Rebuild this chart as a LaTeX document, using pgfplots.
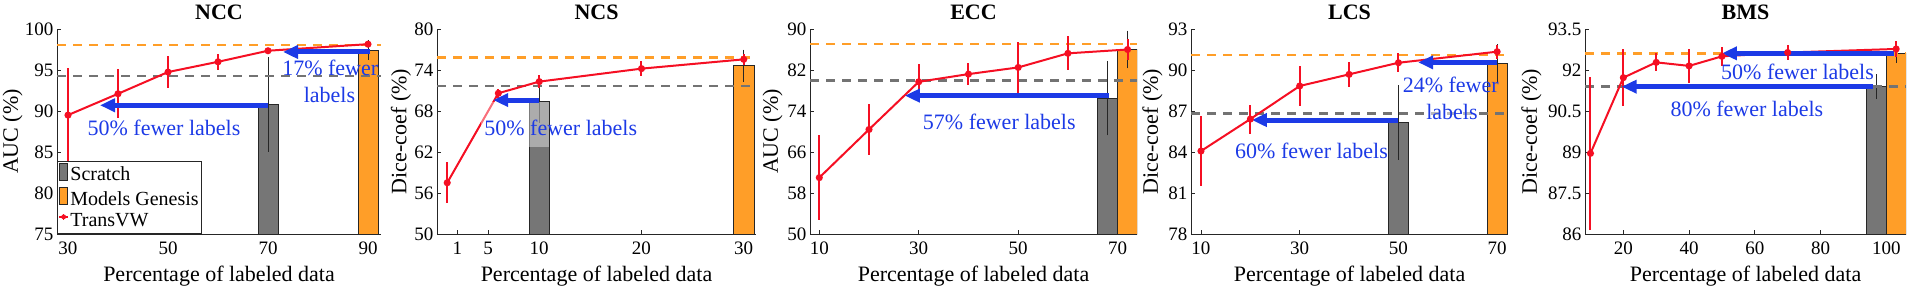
\documentclass[border=0pt]{standalone}
\usepackage{pgfplots}
\pgfplotsset{compat=1.18}
\usepackage{fontspec}
\setmainfont{Liberation Serif}
\usetikzlibrary{arrows.meta}
\definecolor{cgray}{RGB}{118,118,118}
\definecolor{corange}{RGB}{255,158,40}
\definecolor{cred}{RGB}{245,15,35}
\definecolor{cblue}{RGB}{28,58,230}
\definecolor{caxis}{RGB}{38,38,38}
\definecolor{cdash}{RGB}{115,115,115}
\pgfplotsset{
 panel/.style={
  scale only axis, height=205pt, anchor=south west,
  axis x line*=bottom, axis y line*=left,
  axis line style={caxis, line width=0.8pt},
  tick align=inside, major tick length=4pt,
  tick style={caxis, line width=0.8pt},
  ticklabel style={font=\fontsize{19}{19}\selectfont, text=black},
  xticklabel style={anchor=base, yshift=-20pt},
  every axis title/.style={font=\fontsize{22}{22}\selectfont\bfseries, at={(axis description cs:0.5,1)}, anchor=base, yshift=10pt},
  every axis x label/.style={font=\fontsize{22}{22}\selectfont, at={(axis description cs:0.5,0)}, anchor=base, yshift=-47pt},
  xlabel={Percentage of labeled data},
  /pgf/number format/assume math mode=true,
  /pgf/number format/fixed,
  enlargelimits=false,
 },
 ylabeloff/.style={every axis y label/.style={font=\fontsize{22}{22}\selectfont, at={(axis description cs:0,0.5)}, xshift=-#1, rotate=90, anchor=center}},
 bstyle/.style={ybar, bar width=#1, bar shift=0pt, draw=black!85, line width=0.8pt, forget plot},
 berr/.style={error bars/.cd, y dir=both, y explicit,
   error bar style={black!85, line width=0.8pt},
   error mark options={black!85, line width=0.8pt, mark size=5.5pt}},
 tvw/.style={cred, line width=2pt, mark=*, mark size=2.5pt, mark options={solid, fill=cred}, forget plot,
   error bars/.cd, y dir=both, y explicit, error mark=none,
   error bar style={cred, line width=2pt}},
 odash/.style={corange, line width=2.5pt, dash pattern=on 9pt off 7pt, forget plot},
 gdash/.style={cdash, line width=2.5pt, dash pattern=on 9pt off 7pt, forget plot},
 barrow/.style={cblue, line width=5pt, -{Triangle[length=15pt,width=13pt]}, forget plot},
}
\tikzset{ann/.style={text=cblue, font=\fontsize{22}{26.7}\selectfont, inner sep=1pt},
  annf/.style={ann, fill=white, fill opacity=0.5, text opacity=1}}
\begin{document}
\begin{tikzpicture}
\useasboundingbox (0,0) rectangle (1908pt,287pt);
% ---------------- NCC
\begin{axis}[panel, ylabeloff=44.5pt, at={(57pt,53pt)}, width=324pt,
  title={NCC}, ylabel={AUC (\%)},
  xmin=27.8, xmax=92.6, ymin=75, ymax=100,
  xtick={30,50,70,90}, ytick={75,80,85,90,95,100},
  legend style={at={(axis description cs:0,0)}, anchor=south west, draw=caxis, line width=0.8pt,
    font=\fontsize{20}{20}\selectfont, inner sep=1pt, nodes={inner sep=1.5pt, text height=14pt, text depth=4.5pt}},
  legend cell align=left]
\addplot[bstyle=4, fill=cgray, berr] coordinates {(70,90.8) +- (0,5.1)};
\addplot[bstyle=4, fill=corange, berr] coordinates {(90,97.45) +- (0,0.55)};
\addplot[odash] coordinates {(27.8,98.05) (92.6,98.05)};
\addplot[gdash] coordinates {(27.8,94.25) (92.6,94.25)};
\addplot[tvw] coordinates {(30,89.5) +- (0,5.7) (40,92.1) +- (0,3.0) (50,94.75) +- (0,1.9) (60,96.0) +- (0,1.0) (70,97.35) +- (0,0.35) (90,98.15) +- (0,0.3)};
\addplot[barrow] coordinates {(70,90.7) (36.4,90.7)};
\addplot[barrow] coordinates {(90.4,97.2) (73.0,97.2)};
\node[ann] at (axis cs:49.2,87.9) {50\% fewer labels};
\node[ann] at (axis cs:82.45,95.2) {17\% fewer};
\node[annf] at (axis cs:82.3,91.95) {labels};
\addlegendimage{legend image code/.code={\draw[draw=black!85, line width=0.8pt, fill=cgray] (0pt,-4pt) rectangle (8pt,13pt);}}
\addlegendentry{Scratch}
\addlegendimage{legend image code/.code={\draw[draw=black!85, line width=0.8pt, fill=corange] (0pt,-4pt) rectangle (8pt,13pt);}}
\addlegendentry{Models Genesis}
\addlegendimage{legend image code/.code={\draw[cred, line width=1.5pt] (0pt,5pt) -- (9pt,5pt); \draw[cred, line width=1.2pt] (4.5pt,2pt) -- (4.5pt,8pt); \fill[cred] (4.5pt,5pt) circle (2pt);}}
\addlegendentry{TransVW}
\end{axis}
% ---------------- NCS
\begin{axis}[panel, ylabeloff=36pt, at={(437pt,53pt)}, width=319pt,
  title={NCS}, ylabel={Dice-coef (\%)},
  xmin=0, xmax=31.2, ymin=50, ymax=80,
  xtick={2,5,10,20,30}, xticklabels={1,5,10,20,30}, ytick={50,56,62,68,74,80}]
\addplot[bstyle=2, fill=cgray, berr] coordinates {(10,69.37) +- (0,2.25)};
\addplot[bstyle=2, fill=corange, berr] coordinates {(30,74.63) +- (0,1.55)};
\addplot[odash] coordinates {(0,75.85) (31.2,75.85)};
\addplot[gdash] coordinates {(0,71.66) (31.2,71.66)};
\addplot[tvw] coordinates {(1,57.5) +- (0,3.0) (6,70.6) +- (0,0.65) (10,72.3) +- (0,1.0) (20,74.2) +- (0,1.05) (30,75.56) +- (0,0.8)};
\fill[white, opacity=0.4] (axis cs:4.3,62.7) rectangle (axis cs:11.0,69.3);
\addplot[barrow] coordinates {(10,69.6) (5.5,69.6)};
\node[ann] at (axis cs:12.1,65.5) {50\% fewer labels};
\end{axis}
% ---------------- ECC
\begin{axis}[panel, ylabeloff=37.5pt, at={(810pt,53pt)}, width=327pt,
  title={ECC}, ylabel={AUC (\%)},
  xmin=8.13, xmax=73.9, ymin=50, ymax=90,
  xtick={10,30,50,70}, ytick={50,58,66,74,82,90}]
\addplot[bstyle=4, fill=cgray, berr] coordinates {(68,76.5) +- (0,6.2)};
\addplot[bstyle=4, fill=corange, berr] coordinates {(72,86.0) +- (0,2.6)};
\addplot[odash] coordinates {(8.13,87.1) (73.9,87.1)};
\addplot[gdash] coordinates {(8.13,79.95) (73.9,79.95)};
\addplot[tvw] coordinates {(10,61.0) +- (0,8.3) (20,70.4) +- (0,4.9) (30,79.7) +- (0,3.45) (40,81.2) +- (0,2.2) (50,82.5) +- (0,5.0) (60,85.25) +- (0,3.3) (72,86.0) +- (0,2.1)};
\addplot[barrow] coordinates {(68.2,77.0) (27.2,77.0)};
\node[ann] at (axis cs:46.2,71.9) {57\% fewer labels};
\end{axis}
% ---------------- LCS
\begin{axis}[panel, ylabeloff=38.5pt, at={(1191pt,53pt)}, width=317pt,
  title={LCS}, ylabel={Dice-coef (\%)},
  xmin=7.98, xmax=72.2, ymin=78, ymax=93,
  xtick={10,30,50,70}, ytick={78,81,84,87,90,93}]
\addplot[bstyle=4, fill=cgray, berr] coordinates {(50,86.17) +- (0,2.33)};
\addplot[bstyle=4, fill=corange, berr] coordinates {(70,90.49) +- (0,1.0)};
\addplot[odash] coordinates {(7.98,91.1) (72.2,91.1)};
\addplot[gdash] coordinates {(7.98,86.83) (72.2,86.83)};
\addplot[tvw] coordinates {(10,84.07) +- (0,2.55) (20,86.41) +- (0,1.06) (30,88.83) +- (0,1.46) (40,89.68) +- (0,0.94) (50,90.53) +- (0,0.7) (70,91.34) +- (0,0.5)};
\addplot[barrow] coordinates {(70,90.56) (54.0,90.56)};
\addplot[barrow] coordinates {(50,86.34) (20.3,86.34)};
\node[ann] at (axis cs:60.6,88.9) {24\% fewer};
\node[annf] at (axis cs:60.85,86.95) {labels};
\node[ann] at (axis cs:32.4,84.07) {60\% fewer labels};
\end{axis}
% ---------------- BMS
\begin{axis}[panel, ylabeloff=53.5pt, at={(1585pt,53pt)}, width=321pt,
  title={BMS}, ylabel={Dice-coef (\%)},
  xmin=8.34, xmax=106, ymin=86, ymax=93.5,
  xtick={20,40,60,80,100}, ytick={86,87.5,89,90.5,92,93.5}]
\addplot[bstyle=6, fill=cgray, berr] coordinates {(97,91.39) +- (0,0.25)};
\addplot[bstyle=6, fill=corange, berr] coordinates {(103,92.61) +- (0,0.15)};
\addplot[odash] coordinates {(8.34,92.61) (106,92.61)};
\addplot[gdash] coordinates {(8.34,91.39) (106,91.39)};
\addplot[tvw] coordinates {(10,88.95) +- (0,2.8) (20,91.72) +- (0,1.05) (30,92.28) +- (0,0.33) (40,92.15) +- (0,0.63) (50,92.5) +- (0,0.35) (70,92.64) +- (0,0.27) (103,92.77) +- (0,0.3)};
\addplot[barrow] coordinates {(102.4,92.61) (50,92.61)};
\addplot[barrow] coordinates {(96,91.39) (19.5,91.39)};
\node[ann] at (axis cs:73,91.94) {50\% fewer labels};
\node[ann] at (axis cs:57.6,90.57) {80\% fewer labels};
\end{axis}
\end{tikzpicture}
\end{document}
